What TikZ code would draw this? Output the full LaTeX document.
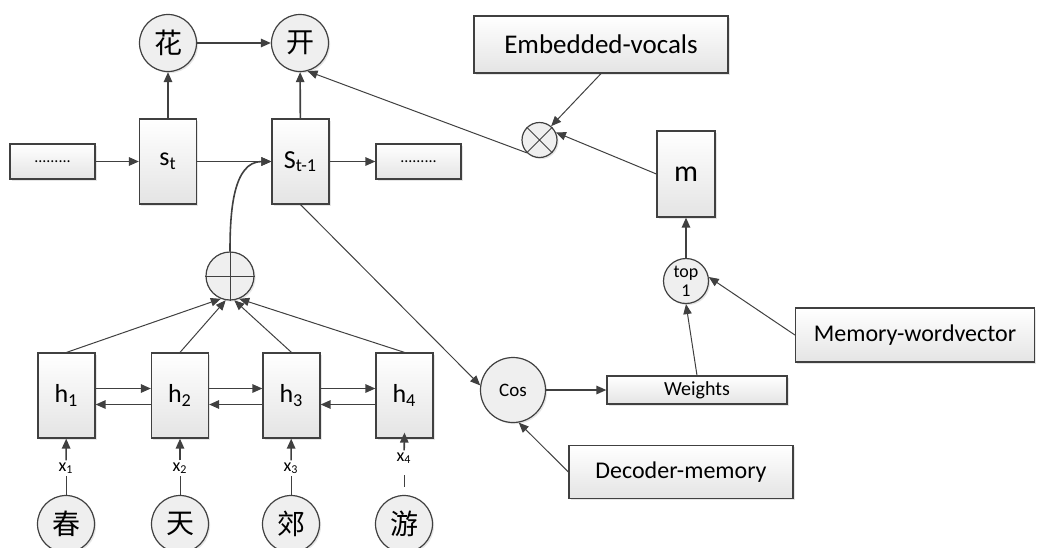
\documentclass[tikz,border=0pt]{standalone}
\usepackage{fontspec}
\setmainfont{Carlito}
\newfontfamily\cjk{Noto Sans CJK SC}
\usetikzlibrary{arrows.meta,shadows}
\definecolor{trait}{HTML}{404040}
\definecolor{fond}{HTML}{E4E4E4}

\begin{document}
\begin{tikzpicture}[x=0.5pt,y=-0.5pt]
\tikzset{boite/.style={draw=trait, line width=0.6pt, rectangle, inner sep=0pt, top color=white, bottom color=fond, drop shadow={shadow xshift=0.8pt, shadow yshift=-0.8pt, opacity=0.2}},
  rond/.style={draw=trait, line width=0.6pt, circle, inner sep=0pt, fill=fond!60, drop shadow={shadow xshift=0.8pt, shadow yshift=-0.8pt, opacity=0.2}},
  mot/.style={rond, minimum size=28.5pt, font=\cjk\fontsize{14}{14}\selectfont},
  cellule/.style={boite, minimum width=28.5pt, minimum height=42.5pt, font=\fontsize{13}{13}\selectfont},
  points/.style={boite, minimum width=42.5pt, minimum height=17.5pt, font=\fontsize{8}{8}\selectfont},
  etiquette/.style={boite, font=\fontsize{12}{12}\selectfont},
  entree/.style={inner sep=1pt, font=\fontsize{9}{9}\selectfont},
  fleche/.style={draw=trait, line width=0.8pt, -{Triangle[length=5pt,width=4.2pt]}},
  fin/.style={draw=trait, line width=0.5pt}}
\useasboundingbox (0,0) rectangle (1043,547);

\node[mot] (hua) at (168,43) {花};
\node[mot] (kai) at (300,43) {开};
\node[points] (dl) at (52.5,161.5) {.........};
\node[cellule] (st) at (168,161.5) {s\textsubscript{t}};
\node[cellule] (stm) at (300.5,161.5) {S\textsubscript{t-1}};
\node[points] (dr) at (418.5,161.5) {.........};
\node[rond, minimum size=24pt] (plus) at (230,276) {};
\node[cellule] (h1) at (66.5,395.5) {h\textsubscript{1}};
\node[cellule] (h2) at (180,395.5) {h\textsubscript{2}};
\node[cellule] (h3) at (291.5,395.5) {h\textsubscript{3}};
\node[cellule] (h4) at (404.5,395.5) {h\textsubscript{4}};
\node[entree] (x1) at (66,468) {x\textsubscript{1}};
\node[entree] (x2) at (180,468) {x\textsubscript{2}};
\node[entree] (x3) at (291,468) {x\textsubscript{3}};
\node[entree] (x4) at (404,458) {x\textsubscript{4}};
\node[mot] (chun) at (66,524) {春};
\node[mot] (tian) at (180,524) {天};
\node[mot] (jiao) at (291,524) {郊};
\node[mot] (you) at (404,524) {游};
\node[etiquette, minimum width=127pt, minimum height=28.5pt, font=\fontsize{13.5}{13.5}\selectfont] (ev) at (601,44.5) {Embedded-vocals};
\node[rond, minimum size=17.5pt] (ot) at (539.5,140) {};
\node[cellule, minimum width=29pt, minimum height=43pt, font=\fontsize{15}{15}\selectfont] (m) at (686,174) {m};
\node[rond, minimum size=22.5pt, font=\fontsize{9}{9.5}\selectfont, align=center] (top) at (686,281) {top\\1};
\node[etiquette, minimum width=119.5pt, minimum height=27pt] (mw) at (915,335) {Memory-wordvector};
\node[rond, minimum size=32.5pt, font=\fontsize{9.5}{9.5}\selectfont] (cos) at (513,390) {Cos};
\node[boite, minimum width=90pt, minimum height=14pt, font=\fontsize{10}{10}\selectfont] (w) at (697,390) {Weights};
\node[etiquette, minimum width=112pt, minimum height=26.5pt] (dm) at (681,472) {Decoder-memory};

\draw[fin] (plus.north) -- (plus.south) (plus.west) -- (plus.east);
\draw[fin] (ot.45) -- (ot.225) (ot.135) -- (ot.-45);

\draw[fleche] (hua) -- (kai);
\draw[fleche] (st) -- (hua);
\draw[fleche] (stm) -- (kai);
\draw[fleche] (dl) -- (st);
\draw[fleche] (st) -- (stm);
\draw[fleche] (stm) -- (dr);
\draw[fleche] (plus.north) to[out=90,in=180] (stm.west);
\draw[fleche, fin] (h1.north) -- (plus.-112);
\draw[fleche, fin] (h2.north) -- (plus.-100);
\draw[fleche, fin] (h3.north) -- (plus.-80);
\draw[fleche, fin] (h4.north) -- (plus.-68);
\draw[fleche] ([yshift=3.5pt]h1.east) -- ([yshift=3.5pt]h2.west);
\draw[fleche] ([yshift=-4.5pt]h2.west) -- ([yshift=-4.5pt]h1.east);
\draw[fleche] ([yshift=3.5pt]h2.east) -- ([yshift=3.5pt]h3.west);
\draw[fleche] ([yshift=-4.5pt]h3.west) -- ([yshift=-4.5pt]h2.east);
\draw[fleche] ([yshift=3.5pt]h3.east) -- ([yshift=3.5pt]h4.west);
\draw[fleche] ([yshift=-4.5pt]h4.west) -- ([yshift=-4.5pt]h3.east);
\draw[fin] (chun) -- (x1);
\draw[fin] (tian) -- (x2);
\draw[fin] (jiao) -- (x3);
\draw[fin] ([yshift=4pt]you.north) -- ++(0,-12);
\draw[fleche] (x1) -- (h1);
\draw[fleche] (x2) -- (h2);
\draw[fleche] (x3) -- (h3);
\draw[fleche] (x4) -- ([yshift=3pt]h4.south);
\draw[fleche, fin] (stm.south) -- (cos.172);
\draw[fleche] (cos) -- (w);
\draw[fleche, fin] (dm.west) -- (cos.-80);
\draw[fleche, fin] (w.north) -- (top.south);
\draw[fleche, fin] (mw.west) -- (top.10);
\draw[fleche] (top) -- (m);
\draw[fleche, fin] (m.west) -- (ot.25);
\draw[fleche, fin] (ev.south) -- (ot.50);
\draw[fleche, fin] (ot.225) -- (kai.-75);
\end{tikzpicture}
\end{document}
